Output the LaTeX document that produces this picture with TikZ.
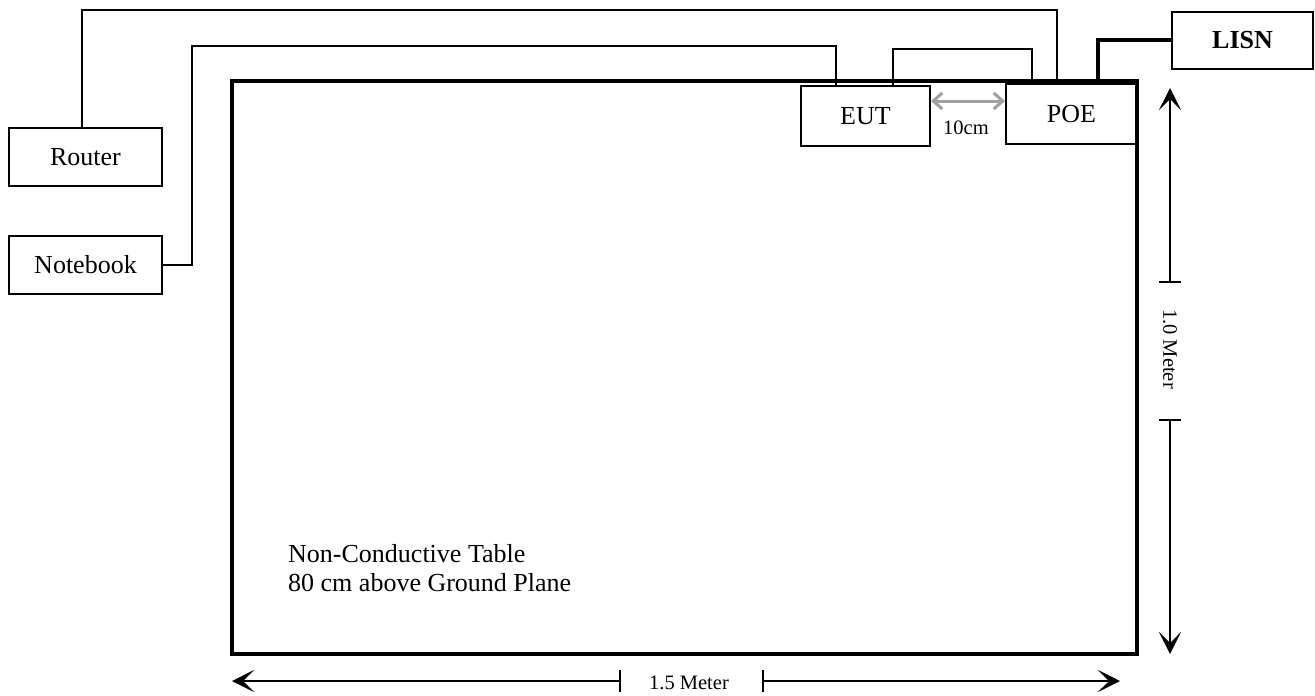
\documentclass[tikz,border=0pt]{standalone}
\usepackage{fontspec}
\setmainfont{Liberation Serif}
\usepackage{tikz}
\usetikzlibrary{arrows.meta,positioning,calc}
\definecolor{gapgray}{RGB}{160,160,160}

\begin{document}
\begin{tikzpicture}[x=1pt,y=-1pt,
  box/.style={draw=black, line width=2pt, inner sep=0pt, minimum width=153pt,
              minimum height=58pt, align=center, font=\fontsize{26}{29}\selectfont},
  tablebox/.style={draw=black, line width=3.5pt, minimum width=905pt, minimum height=573pt},
  wire/.style={line width=2pt},
  power/.style={line width=3.5pt},
  dim/.style={line width=2pt, {Stealth[length=22pt,width=22pt,inset=11pt]}-{Bar[width=22pt]}},
  gap/.style={gapgray, line width=3pt, {Straight Barb[length=9pt,width=16pt]}-{Straight Barb[length=9pt,width=16pt]}},
  small/.style={font=\fontsize{20.5}{22}\selectfont}
]
\useasboundingbox (0,0) rectangle (1315,696);

% table and equipment
\node[tablebox] (table) at (684.5,367.5) {};
\node[box] (router)   at (85.5,157)    {Router};
\node[box] (notebook) at (85.5,264.5)  {Notebook};
\node[box, minimum width=129pt, minimum height=60pt] (eut) at (865.5,116) {EUT};
\node[box, minimum width=131pt, minimum height=60pt] (poe) at (1071.5,114) {POE};
\node[box, minimum width=141pt, minimum height=57pt, font=\fontsize{26}{29}\selectfont\bfseries] (lisn) at (1242.5,40) {LISN};

\node[anchor=west, align=left, inner sep=0pt, font=\fontsize{26}{29}\selectfont] (note) at (288,568)
  {Non-Conductive Table\\80 cm above Ground Plane};

% cables
\coordinate (rtop) at (1057,9.5);
\coordinate (ntop) at (192,45.5);
\draw[wire] ([xshift=-3.5pt]router.north) |- (rtop) -- (rtop |- poe.north);
\draw[wire] (notebook.east) -| (ntop) -| ([xshift=-29.5pt]eut.north);
\draw[wire] ([xshift=27.5pt]eut.north) -- ++(0,-36) -| ([xshift=-39.5pt]poe.north);
\draw[power] ([xshift=26.5pt]poe.north) |- (lisn.west);

% spacing EUT - POE
\draw[gap] ([yshift=15pt]eut.east) -- ([yshift=13pt]poe.west);
\node[small] (gaplabel) at (966,128) {10cm};

% dimensions
\coordinate (vtop) at (1170,88);
\coordinate (vtick1) at (1170,283);
\coordinate (vtick2) at (1170,419);
\coordinate (vbot) at (1170,654);
\draw[dim] (vtop) -- (vtick1);
\draw[dim] (vbot) -- (vtick2);
\node[small, rotate=-90] (vlabel) at (1170,349) {1.0 Meter};

\coordinate (hleft) at (232,681);
\coordinate (htick1) at (621,681);
\coordinate (htick2) at (762,681);
\coordinate (hright) at (1120,681);
\draw[dim] (hleft) -- (htick1);
\draw[dim] (hright) -- (htick2);
\node[small] (hlabel) at (689,683) {1.5 Meter};
\end{tikzpicture}
\end{document}
